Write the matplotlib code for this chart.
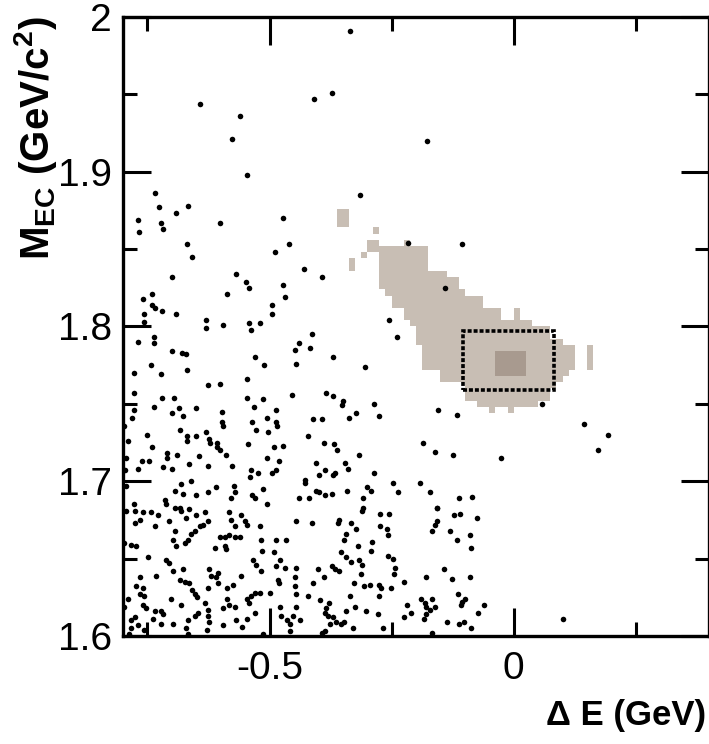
import numpy as np
import matplotlib
matplotlib.use("Agg")
import matplotlib.pyplot as plt
from matplotlib.ticker import MultipleLocator, FuncFormatter
from matplotlib.colors import ListedColormap
from matplotlib.patches import Rectangle

plt.rcParams['font.family'] = ['Liberation Sans', 'DejaVu Sans']
plt.rcParams['axes.unicode_minus'] = False
plt.rcParams['mathtext.fontset'] = 'custom'
plt.rcParams['mathtext.rm'] = 'Liberation Sans'
plt.rcParams['mathtext.bf'] = 'Liberation Sans:bold'

# data events (Delta E, M_EC)
dE = [
    -0.643, -0.561, -0.576, -0.408, -0.373, -0.336, -0.178,
    -0.314, -0.217, -0.105, -0.141, -0.256, -0.238, -0.369, -0.305, -0.369, -0.350, -0.352,
    -0.322, -0.338, -0.285, -0.275, -0.154, -0.117, 0.057, 0.145, 0.193, 0.172, -0.025,
    -0.186, -0.162, -0.125, -0.316, -0.367, -0.361, -0.346, -0.340,
    -0.547, -0.734, -0.727, -0.666, -0.691, -0.770, -0.723, -0.719, -0.768, -0.602, -0.473,
    -0.668, -0.658, -0.488, -0.461, -0.430, -0.393, -0.699, -0.568, -0.549, -0.543, -0.473,
    -0.469, -0.588, -0.740, -0.760, -0.740, -0.734, -0.756, -0.758, -0.721, -0.691, -0.494,
    -0.494, -0.631, -0.631, -0.596, -0.541, -0.537, -0.520, -0.414, -0.439, -0.447, -0.418,
    -0.445, -0.770, -0.736, -0.736, -0.699, -0.680, -0.670, -0.742, -0.668, -0.723, -0.777,
    -0.529, -0.512, -0.547, -0.625, -0.602, -0.777, -0.721, -0.695, -0.547, -0.514, -0.453,
    -0.385,
    -0.736, -0.777, -0.781, -0.686, -0.678, -0.699, -0.650, -0.598, -0.598, -0.596, -0.531,
    -0.506, -0.486, -0.486, -0.484, -0.535, -0.527, -0.504, -0.797, -0.750, -0.684, -0.668,
    -0.668, -0.650, -0.631, -0.623, -0.621, -0.607, -0.607, -0.602, -0.590, -0.789, -0.740,
    -0.709, -0.709, -0.689, -0.645, -0.545, -0.490, -0.473, -0.422, -0.506, -0.793, -0.762,
    -0.770, -0.746, -0.719, -0.699, -0.795, -0.664, -0.625, -0.576, -0.480, -0.537, -0.539,
    -0.523, -0.494, -0.486, -0.428, -0.428, -0.660, -0.682, -0.678, -0.693, -0.793, -0.625,
    -0.609, -0.572, -0.570, -0.578, -0.514, -0.535, -0.529, -0.650, -0.715, -0.711, -0.777,
    -0.684, -0.506, -0.439, -0.420,
    -0.410, -0.393, -0.389, -0.404, -0.387, -0.398, -0.371, -0.365, -0.287, -0.248, -0.236,
    -0.191, -0.172, -0.404, -0.398, -0.387, -0.373, -0.342, -0.301, -0.293, -0.309, -0.111,
    -0.086, -0.309, -0.156,
    -0.793, -0.776, -0.759, -0.742, -0.728, -0.776, -0.766, -0.735, -0.705, -0.694, -0.681,
    -0.664, -0.670, -0.650, -0.633, -0.626, -0.636, -0.643, -0.653, -0.660, -0.667, -0.674,
    -0.694, -0.698, -0.691, -0.582, -0.578, -0.571, -0.558, -0.551, -0.547, -0.520, -0.446,
    -0.602, -0.592, -0.582, -0.571, -0.561, -0.592, -0.590, -0.612, -0.517, -0.486, -0.467,
    -0.515, -0.491, -0.478, -0.534, -0.527, -0.517, -0.486, -0.469, -0.445, -0.797, -0.783,
    -0.773, -0.749, -0.711, -0.705, -0.698, -0.677, -0.624, -0.619, -0.606, -0.558, -0.732,
    -0.765, -0.684, -0.674, -0.664, -0.658, -0.653, -0.649, -0.626, -0.606, -0.609, -0.588,
    -0.575, -0.773, -0.759, -0.765, -0.756, -0.701, -0.681, -0.633, -0.626, -0.588, -0.582,
    -0.595, -0.571, -0.547, -0.537, -0.530, -0.541, -0.520, -0.500, -0.481, -0.483, -0.448,
    -0.448, -0.445, -0.479, -0.445, -0.452, -0.465, -0.438, -0.797, -0.790, -0.759, -0.752,
    -0.735, -0.722, -0.718, -0.739, -0.722, -0.776, -0.783, -0.769, -0.698, -0.667, -0.653,
    -0.646, -0.626, -0.623, -0.595, -0.568, -0.547, -0.530, -0.556, -0.476, -0.459, -0.783,
    -0.756, -0.670, -0.629, -0.787, -0.667, -0.513, -0.459,
    -0.310, -0.273, -0.255, -0.156, -0.123, -0.109, -0.076, -0.413, -0.357, -0.360, -0.333,
    -0.322, -0.273, -0.260, -0.258, -0.343, -0.348, -0.290, -0.292, -0.167, -0.162, -0.158,
    -0.130, -0.117, -0.089, -0.087, -0.353, -0.344, -0.333, -0.316, -0.310, -0.258, -0.247,
    -0.244, -0.246, -0.319, -0.401, -0.372, -0.365, -0.358, -0.389, -0.312, -0.411, -0.327,
    -0.307, -0.294, -0.275, -0.271, -0.275, -0.251, -0.225, -0.179, -0.143, -0.126, -0.090,
    -0.421, -0.396, -0.378, -0.384, -0.387, -0.380, -0.370, -0.363, -0.377, -0.353, -0.348,
    -0.335, -0.344, -0.324, -0.303, -0.277, -0.268, -0.329, -0.392, -0.387, -0.219, -0.210,
    -0.225, -0.189, -0.182, -0.167, -0.179, -0.171, -0.162, -0.180, -0.184, -0.167, -0.114,
    -0.105, -0.100, -0.107, -0.061, -0.073, -0.137, -0.111, -0.102, -0.087, 0.101,
]
mEC = [
    1.944, 1.936, 1.921, 1.947, 1.951, 1.991, 1.920,
    1.885, 1.854, 1.853, 1.825, 1.804, 1.793, 1.780, 1.774, 1.755, 1.752, 1.749,
    1.744, 1.741, 1.750, 1.742, 1.746, 1.743, 1.750, 1.737, 1.730, 1.720, 1.715,
    1.725, 1.719, 1.717, 1.717, 1.724, 1.720, 1.712, 1.708,
    1.898, 1.886, 1.877, 1.878, 1.873, 1.869, 1.867, 1.863, 1.861, 1.867, 1.870,
    1.853, 1.845, 1.848, 1.853, 1.837, 1.832, 1.832, 1.834, 1.829, 1.825, 1.827,
    1.819, 1.821, 1.821, 1.818, 1.814, 1.812, 1.808, 1.803, 1.810, 1.808, 1.814,
    1.808, 1.804, 1.799, 1.801, 1.802, 1.798, 1.802, 1.795, 1.789, 1.785, 1.786,
    1.776, 1.790, 1.789, 1.793, 1.784, 1.783, 1.782, 1.775, 1.772, 1.769, 1.770,
    1.780, 1.775, 1.766, 1.762, 1.763, 1.757, 1.754, 1.754, 1.754, 1.753, 1.756,
    1.757,
    1.748, 1.746, 1.741, 1.747, 1.742, 1.744, 1.747, 1.745, 1.738, 1.736, 1.748,
    1.741, 1.746, 1.738, 1.736, 1.738, 1.733, 1.732, 1.736, 1.730, 1.733, 1.729,
    1.726, 1.729, 1.732, 1.727, 1.725, 1.725, 1.722, 1.720, 1.717, 1.726, 1.722,
    1.718, 1.715, 1.717, 1.716, 1.724, 1.722, 1.723, 1.729, 1.715, 1.715, 1.713,
    1.708, 1.713, 1.709, 1.708, 1.707, 1.711, 1.710, 1.710, 1.713, 1.707, 1.703,
    1.705, 1.705, 1.707, 1.701, 1.699, 1.700, 1.698, 1.692, 1.694, 1.697, 1.693,
    1.696, 1.697, 1.693, 1.689, 1.695, 1.691, 1.689, 1.691, 1.688, 1.685, 1.685,
    1.683, 1.685, 1.689, 1.689,
    1.740, 1.740, 1.725, 1.712, 1.707, 1.704, 1.704, 1.705, 1.705, 1.699, 1.693,
    1.699, 1.693, 1.694, 1.693, 1.691, 1.692, 1.694, 1.696, 1.694, 1.689, 1.689,
    1.690, 1.683, 1.683,
    1.681, 1.681, 1.680, 1.680, 1.678, 1.673, 1.675, 1.671, 1.674, 1.683, 1.681,
    1.682, 1.676, 1.678, 1.680, 1.674, 1.672, 1.671, 1.668, 1.666, 1.662, 1.660,
    1.668, 1.662, 1.658, 1.680, 1.675, 1.671, 1.678, 1.674, 1.672, 1.671, 1.674,
    1.664, 1.664, 1.665, 1.664, 1.664, 1.658, 1.656, 1.657, 1.662, 1.662, 1.662,
    1.655, 1.654, 1.649, 1.649, 1.646, 1.642, 1.645, 1.644, 1.644, 1.660, 1.659,
    1.658, 1.651, 1.649, 1.647, 1.642, 1.643, 1.643, 1.639, 1.641, 1.639, 1.639,
    1.638, 1.636, 1.635, 1.634, 1.630, 1.627, 1.625, 1.631, 1.634, 1.638, 1.631,
    1.633, 1.632, 1.631, 1.627, 1.626, 1.624, 1.620, 1.621, 1.617, 1.624, 1.620,
    1.618, 1.619, 1.624, 1.626, 1.628, 1.621, 1.628, 1.628, 1.634, 1.636, 1.638,
    1.632, 1.627, 1.619, 1.619, 1.613, 1.610, 1.610, 1.619, 1.624, 1.620, 1.618,
    1.616, 1.616, 1.614, 1.611, 1.608, 1.612, 1.610, 1.607, 1.608, 1.610, 1.613,
    1.615, 1.613, 1.609, 1.607, 1.610, 1.611, 1.615, 1.606, 1.613, 1.608, 1.605,
    1.604, 1.605, 1.604, 1.601, 1.601, 1.601, 1.603,
    1.681, 1.679, 1.679, 1.683, 1.678, 1.679, 1.676, 1.673, 1.675, 1.673, 1.673,
    1.669, 1.671, 1.669, 1.665, 1.666, 1.662, 1.661, 1.655, 1.668, 1.672, 1.674,
    1.668, 1.662, 1.665, 1.657, 1.654, 1.651, 1.648, 1.649, 1.646, 1.652, 1.650,
    1.644, 1.640, 1.658, 1.643, 1.645, 1.643, 1.642, 1.638, 1.640, 1.634, 1.634,
    1.632, 1.633, 1.633, 1.631, 1.626, 1.631, 1.635, 1.638, 1.643, 1.637, 1.638,
    1.626, 1.623, 1.621, 1.618, 1.615, 1.613, 1.612, 1.609, 1.608, 1.608, 1.609,
    1.626, 1.616, 1.619, 1.616, 1.614, 1.605, 1.605, 1.602, 1.603, 1.620, 1.615,
    1.612, 1.624, 1.621, 1.624, 1.619, 1.617, 1.619, 1.614, 1.611, 1.602, 1.627,
    1.622, 1.624, 1.620, 1.620, 1.615, 1.609, 1.608, 1.609, 1.605, 1.611,
]

# signal MC region: rows of filled bins (M_EC low, M_EC high, dE low, dE high)
sig_y0 = [1.865, 1.860, 1.850, 1.850, 1.845, 1.838, 1.838, 1.834, 1.825, 1.819, 1.812, 1.805, 1.805,
          1.800, 1.793, 1.787, 1.780, 1.774, 1.774, 1.769, 1.765, 1.759, 1.753, 1.749, 1.745, 1.745]
sig_y1 = [1.876, 1.866, 1.856, 1.856, 1.850, 1.852, 1.846, 1.838, 1.834, 1.825, 1.819, 1.812, 1.812,
          1.805, 1.800, 1.793, 1.787, 1.787, 1.780, 1.774, 1.769, 1.765, 1.759, 1.753, 1.749, 1.749]
sig_x0 = [-0.360, -0.292, -0.302, -0.230, -0.312, -0.275, -0.333, -0.278, -0.271, -0.260, -0.245, -0.225, 0.000,
          -0.212, -0.202, -0.196, -0.193, 0.152, -0.182, -0.155, -0.145, -0.104, -0.097, -0.070, -0.049, -0.008]
sig_x1 = [-0.340, -0.281, -0.281, -0.210, -0.298, -0.179, -0.319, -0.138, -0.117, -0.097, -0.063, -0.022, 0.012,
          0.033, 0.081, 0.101, 0.122, 0.163, 0.122, 0.115, 0.101, 0.087, 0.074, 0.046, -0.036, 0.002]
# denser core
core_y0 = [1.776, 1.768]
core_y1 = [1.784, 1.776]
core_x0 = [-0.039, -0.032]
core_x1 = [0.019, 0.019]

box_x = (-0.104, 0.083)
box_y = (1.759, 1.797)

fig = plt.figure(figsize=(7.09, 7.44), dpi=100)
ax = fig.add_axes([0.1735, 0.1452, 0.8265, 0.832])

# 2D histogram of the signal shape
xe = np.arange(-0.8, 0.4001, 0.0125)
ye = np.arange(1.6, 2.0001, 0.004)
xc = 0.5 * (xe[1:] + xe[:-1])
yc = 0.5 * (ye[1:] + ye[:-1])
lev = np.zeros((len(yc), len(xc)))
for y0, y1, x0, x1 in zip(sig_y0, sig_y1, sig_x0, sig_x1):
    lev[np.ix_((yc >= y0) & (yc < y1), (xc >= x0) & (xc <= x1))] = 1
for y0, y1, x0, x1 in zip(core_y0, core_y1, core_x0, core_x1):
    lev[np.ix_((yc >= y0) & (yc < y1), (xc >= x0) & (xc <= x1))] = 2
lev = np.ma.masked_equal(lev, 0)
cmap = ListedColormap(['#c8beb4', '#a89a8f'])
ax.pcolormesh(xe, ye, lev, cmap=cmap, vmin=0.5, vmax=2.5, zorder=1)

ax.plot(dE, mEC, 'o', color='black', ms=4.0, mew=0, zorder=3)

ax.add_patch(Rectangle((box_x[0], box_y[0]), box_x[1] - box_x[0], box_y[1] - box_y[0],
                       fill=False, ec='black', lw=2.6, ls=(0, (1.1, 0.55)), zorder=4))

ax.set_xlim(-0.8, 0.4)
ax.set_ylim(1.6, 2.0)
ax.xaxis.set_major_locator(MultipleLocator(0.5))
ax.xaxis.set_minor_locator(MultipleLocator(0.25))
ax.yaxis.set_major_locator(MultipleLocator(0.1))
ax.yaxis.set_minor_locator(MultipleLocator(0.05))
ax.xaxis.set_major_formatter(FuncFormatter(lambda v, p: '%g' % round(v, 3)))
ax.yaxis.set_major_formatter(FuncFormatter(lambda v, p: '%g' % round(v, 3)))
ax.tick_params(which='both', direction='in', top=True, right=True, width=2.2, labelsize=28)
ax.tick_params(which='major', length=20)
ax.tick_params(which='minor', length=10)
ax.tick_params(axis='x', pad=11)
ax.tick_params(axis='y', pad=8)
for sp in ax.spines.values():
    sp.set_linewidth(2.4)

fig.text(36 / 709, 1 - 16 / 744, r'M$_{\mathbf{EC}}$ (GeV/c$^{\mathbf{2}}$)', rotation=90,
         ha='center', va='top', fontsize=29, fontweight='bold')
fig.text(706 / 709, 1 - 716 / 744, 'Δ E (GeV)', ha='right', va='center', fontsize=25,
         fontweight='bold')

fig.savefig('out.png', dpi=100)
